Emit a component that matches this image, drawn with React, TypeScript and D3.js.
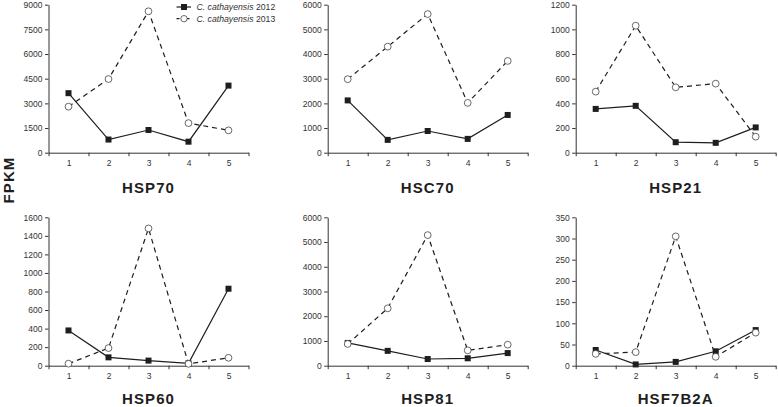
import React, { useEffect, useRef } from "react";
import * as d3 from "d3";

const categories = [1, 2, 3, 4, 5];
const seriesNames = ["2012", "2013"];
const panelTitles = ["HSP70", "HSC70", "HSP21", "HSP60", "HSP81", "HSF7B2A"];

const hsp70_2012 = [3620, 800, 1380, 670, 4080];
const hsp70_2013 = [2800, 4480, 8600, 1800, 1360];
const hsc70_2012 = [2120, 520, 880, 560, 1530];
const hsc70_2013 = [2980, 4300, 5620, 2020, 3720];
const hsp21_2012 = [355, 380, 85, 80, 205];
const hsp21_2013 = [495, 1030, 530, 560, 130];
const hsp60_2012 = [380, 90, 55, 25, 830];
const hsp60_2013 = [22, 190, 1480, 20, 85];
const hsp81_2012 = [920, 600, 270, 300, 510];
const hsp81_2013 = [880, 2320, 5280, 620, 850];
const hsf_2012 = [37, 3, 9, 34, 84];
const hsf_2013 = [28, 32, 305, 21, 78];

const yTicks70 = [0, 1500, 3000, 4500, 6000, 7500, 9000];
const yTicks6000 = [0, 1000, 2000, 3000, 4000, 5000, 6000];
const yTicks1200 = [0, 200, 400, 600, 800, 1000, 1200];
const yTicks1600 = [0, 200, 400, 600, 800, 1000, 1200, 1400, 1600];
const yTicks350 = [0, 50, 100, 150, 200, 250, 300, 350];

const panelData = [
  [hsp70_2012, hsp70_2013, yTicks70],
  [hsc70_2012, hsc70_2013, yTicks6000],
  [hsp21_2012, hsp21_2013, yTicks1200],
  [hsp60_2012, hsp60_2013, yTicks1600],
  [hsp81_2012, hsp81_2013, yTicks6000],
  [hsf_2012, hsf_2013, yTicks350],
];

const W = 778;
const H = 407;
const FONT = "'Liberation Sans', Arial, sans-serif";
const INK = "#1e1e1e";
const TXT = "#333";

export default function App() {
  const ref = useRef<SVGSVGElement>(null);

  useEffect(() => {
    const svg = d3.select(ref.current);
    svg.selectAll("*").remove();

    const colX = [48.5, 327.7, 575.7];
    const rows = [
      { y0: 152.7, y1: 4.7, title: 193.2 },
      { y0: 365.7, y1: 217.3, title: 403.8 },
    ];
    const plotW = 200;

    panelData.forEach((pd, i) => {
      const [s12, s13, ticks] = pd as [number[], number[], number[]];
      const x0 = colX[i % 3];
      const row = rows[Math.floor(i / 3)];
      const x = d3.scaleLinear().domain([0.5, 5.5]).range([x0, x0 + plotW]);
      const y = d3
        .scaleLinear()
        .domain([0, ticks[ticks.length - 1]])
        .range([row.y0, row.y1]);

      const g = svg.append("g");

      const ya = g
        .append("g")
        .attr("transform", `translate(${x0},0)`)
        .call(
          d3
            .axisLeft(y)
            .tickValues(ticks)
            .tickSize(3.5)
            .tickSizeOuter(0)
            .tickPadding(2.5)
            .tickFormat(d3.format("d") as any)
        );
      ya.selectAll("path,line").attr("stroke", TXT).attr("stroke-width", 1);
      ya.selectAll("text")
        .attr("font-family", FONT)
        .attr("font-size", 8.5)
        .attr("fill", TXT);

      const xa = g
        .append("g")
        .attr("transform", `translate(0,${row.y0})`)
        .call(
          d3
            .axisBottom(x)
            .tickValues(d3.range(0.5, 6, 1))
            .tickSize(3.5)
            .tickSizeOuter(0)
            .tickFormat(() => "")
        );
      xa.selectAll("path,line").attr("stroke", TXT).attr("stroke-width", 1);

      const xl = g
        .append("g")
        .attr("transform", `translate(0,${row.y0})`)
        .call(
          d3
            .axisBottom(x)
            .tickValues(categories)
            .tickSize(0)
            .tickPadding(7)
            .tickFormat(d3.format("d") as any)
        );
      xl.select(".domain").remove();
      xl.selectAll("text")
        .attr("font-family", FONT)
        .attr("font-size", 8.5)
        .attr("fill", TXT);

      const line = d3
        .line<number>()
        .x((_, j) => x(categories[j]))
        .y((d) => y(d));
      g.append("path")
        .attr("d", line(s12) as string)
        .attr("fill", "none")
        .attr("stroke", INK)
        .attr("stroke-width", 1.2);
      g.append("path")
        .attr("d", line(s13) as string)
        .attr("fill", "none")
        .attr("stroke", INK)
        .attr("stroke-width", 1.2)
        .attr("stroke-dasharray", "5,4");

      g.selectAll(".sq")
        .data(s12)
        .enter()
        .append("rect")
        .attr("x", (_, j) => x(categories[j]) - 3)
        .attr("y", (d) => y(d) - 3)
        .attr("width", 6)
        .attr("height", 6)
        .attr("fill", INK);
      g.selectAll(".ci")
        .data(s13)
        .enter()
        .append("circle")
        .attr("cx", (_, j) => x(categories[j]))
        .attr("cy", (d) => y(d))
        .attr("r", 3.4)
        .attr("fill", "#fff")
        .attr("stroke", "#444")
        .attr("stroke-width", 0.8);

      g.append("text")
        .attr("x", x0 + plotW / 2)
        .attr("y", row.title)
        .attr("text-anchor", "middle")
        .attr("font-family", FONT)
        .attr("font-weight", "bold")
        .attr("font-size", 15)
        .attr("letter-spacing", 1.1)
        .attr("fill", INK)
        .text(panelTitles[i]);
    });

    svg
      .append("text")
      .attr("transform", "translate(13.5,180) rotate(-90)")
      .attr("text-anchor", "middle")
      .attr("font-family", FONT)
      .attr("font-weight", "bold")
      .attr("font-size", 15)
      .attr("letter-spacing", 1.1)
      .attr("fill", INK)
      .text("FPKM");

    const lg = svg.append("g");
    seriesNames.forEach((name, k) => {
      const cy = 7 + k * 11.7;
      lg.append("line")
        .attr("x1", 176.5)
        .attr("x2", 191)
        .attr("y1", cy)
        .attr("y2", cy)
        .attr("stroke", INK)
        .attr("stroke-width", 1.2)
        .attr("stroke-dasharray", k === 0 ? null : "3,2");
      if (k === 0) {
        lg.append("rect")
          .attr("x", 184 - 3)
          .attr("y", cy - 3)
          .attr("width", 6)
          .attr("height", 6)
          .attr("fill", INK);
      } else {
        lg.append("circle")
          .attr("cx", 184)
          .attr("cy", cy)
          .attr("r", 3.2)
          .attr("fill", "#fff")
          .attr("stroke", "#444")
          .attr("stroke-width", 0.8);
      }
      const t = lg
        .append("text")
        .attr("x", 196.5)
        .attr("y", cy + 3)
        .attr("font-family", FONT)
        .attr("font-size", 8.7)
        .attr("fill", TXT);
      t.append("tspan").attr("font-style", "italic").text("C. cathayensis");
      t.append("tspan").text(" " + name);
    });
  }, []);

  return (
    <svg
      ref={ref}
      width={W}
      height={H}
      style={{ position: "absolute", left: 0, top: 0, background: "#fff" }}
    />
  );
}
